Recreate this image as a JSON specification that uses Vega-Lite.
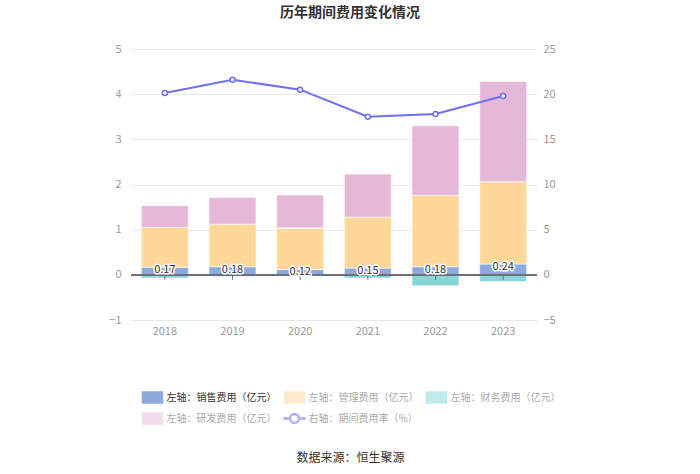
{
  "$schema": "https://vega.github.io/schema/vega-lite/v6.json",
  "width": 406,
  "height": 271,
  "autosize": {"type": "none"},
  "padding": {"left": 131, "top": 49, "right": 163, "bottom": 154},
  "config": {
    "font": "Noto Sans CJK SC",
    "view": {"stroke": null},
    "axis": {"labelColor": "#999999", "labelFontSize": 11, "domain": false, "ticks": false}
  },
  "title": {
    "text": "历年期间费用变化情况",
    "anchor": "middle",
    "frame": "group",
    "dx": 16,
    "offset": 23,
    "fontSize": 14,
    "fontWeight": "bold",
    "color": "#333333"
  },
  "datasets": {
    "cost": [
      {"year": "2018", "type": "左轴：销售费用（亿元）", "value": 0.17},
      {"year": "2018", "type": "左轴：管理费用（亿元）", "value": 0.88},
      {"year": "2018", "type": "左轴：财务费用（亿元）", "value": -0.07},
      {"year": "2018", "type": "左轴：研发费用（亿元）", "value": 0.48},
      {"year": "2019", "type": "左轴：销售费用（亿元）", "value": 0.18},
      {"year": "2019", "type": "左轴：管理费用（亿元）", "value": 0.94},
      {"year": "2019", "type": "左轴：财务费用（亿元）", "value": -0.03},
      {"year": "2019", "type": "左轴：研发费用（亿元）", "value": 0.59},
      {"year": "2020", "type": "左轴：销售费用（亿元）", "value": 0.12},
      {"year": "2020", "type": "左轴：管理费用（亿元）", "value": 0.91},
      {"year": "2020", "type": "左轴：财务费用（亿元）", "value": 0.01},
      {"year": "2020", "type": "左轴：研发费用（亿元）", "value": 0.73},
      {"year": "2021", "type": "左轴：销售费用（亿元）", "value": 0.15},
      {"year": "2021", "type": "左轴：管理费用（亿元）", "value": 1.13},
      {"year": "2021", "type": "左轴：财务费用（亿元）", "value": -0.07},
      {"year": "2021", "type": "左轴：研发费用（亿元）", "value": 0.95},
      {"year": "2022", "type": "左轴：销售费用（亿元）", "value": 0.18},
      {"year": "2022", "type": "左轴：管理费用（亿元）", "value": 1.58},
      {"year": "2022", "type": "左轴：财务费用（亿元）", "value": -0.24},
      {"year": "2022", "type": "左轴：研发费用（亿元）", "value": 1.54},
      {"year": "2023", "type": "左轴：销售费用（亿元）", "value": 0.24},
      {"year": "2023", "type": "左轴：管理费用（亿元）", "value": 1.82},
      {"year": "2023", "type": "左轴：财务费用（亿元）", "value": -0.15},
      {"year": "2023", "type": "左轴：研发费用（亿元）", "value": 2.22}
    ],
    "rate": [
      {"year": "2018", "rate": 20.13},
      {"year": "2019", "rate": 21.6},
      {"year": "2020", "rate": 20.5},
      {"year": "2021", "rate": 17.5},
      {"year": "2022", "rate": 17.8},
      {"year": "2023", "rate": 19.8}
    ]
  },
  "layer": [
    {
      "data": {"name": "cost"},
      "layer": [
        {
          "transform": [
            {"calculate": "indexof(['左轴：销售费用（亿元）', '左轴：管理费用（亿元）', '左轴：财务费用（亿元）', '左轴：研发费用（亿元）'], datum.type)", "as": "seq"}
          ],
          "mark": {"type": "bar", "size": 47, "stroke": "#ffffff", "strokeWidth": 0.6},
          "encoding": {
            "x": {
              "field": "year",
              "type": "nominal",
              "scale": {"paddingInner": 0, "paddingOuter": 0},
              "axis": {
                "labelAngle": 0,
                "labelPadding": 5,
                "title": "数据来源：恒生聚源",
                "titleFontSize": 12,
                "titleFontWeight": "normal",
                "titleColor": "#333333",
                "titlePadding": 116,
                "titleX": 219
              }
            },
            "y": {
              "field": "value",
              "type": "quantitative",
              "stack": "zero",
              "scale": {"domain": [-1, 5], "nice": false},
              "axis": {
                "values": [-1, 0, 1, 2, 3, 4, 5],
                "grid": true,
                "gridColor": "#e6e9f0",
                "labelPadding": 10,
                "title": null
              }
            },
            "color": {
              "field": "type",
              "type": "nominal",
              "scale": {
                "domain": ["左轴：销售费用（亿元）", "左轴：管理费用（亿元）", "左轴：财务费用（亿元）", "左轴：研发费用（亿元）", "右轴：期间费用率（%）"],
                "range": ["#8eaadc", "#ffd899", "#85d6d6", "#e6b8d8", "#6e6ef6"]
              },
              "legend": {
                "orient": "none",
                "legendX": 15,
                "legendY": 342,
                "direction": "horizontal",
                "columns": 3,
                "title": null,
                "symbolType": {"expr": "datum.value === '右轴：期间费用率（%）' ? 'M-1.9,-0.12H-0.91V0.12H-1.9Z M0.91,-0.12H1.9V0.12H0.91Z M0.91,0A0.91,0.91 0 1,0 -0.91,0A0.91,0.91 0 1,0 0.91,0Z M0.7,0A0.7,0.7 0 1,1 -0.7,0A0.7,0.7 0 1,1 0.7,0Z' : 'M-1.82,-1H1.82V1H-1.82Z'"},
                "symbolSize": 121,
                "symbolOffset": 0,
                "symbolOpacity": {"expr": "datum.value === '左轴：销售费用（亿元）' ? 1 : 0.5"},
                "labelColor": {"expr": "datum.value === '左轴：销售费用（亿元）' ? '#333333' : '#aaaaaa'"},
                "labelFontSize": 10,
                "labelOffset": 7.5,
                "columnPadding": 4,
                "rowPadding": 4
              }
            },
            "order": {"field": "seq", "type": "quantitative"}
          }
        },
        {
          "mark": {"type": "rule", "color": "#6e7079", "strokeWidth": 1},
          "encoding": {"y": {"datum": 0, "type": "quantitative"}}
        },
        {
          "transform": [{"filter": "datum.type === '左轴：销售费用（亿元）'"}],
          "mark": {"type": "rule", "color": "#6e7079", "strokeWidth": 1},
          "encoding": {
            "x": {"field": "year", "type": "nominal"},
            "y": {"datum": 0, "type": "quantitative"},
            "y2": {"datum": -0.11}
          }
        },
        {
          "transform": [{"filter": "datum.type === '左轴：销售费用（亿元）'"}],
          "mark": {"type": "text", "fontSize": 11, "baseline": "middle", "dy": 3, "stroke": "#ffffff", "strokeWidth": 3, "strokeJoin": "round", "fill": "#ffffff"},
          "encoding": {
            "x": {"field": "year", "type": "nominal"},
            "y": {"field": "value", "type": "quantitative"},
            "text": {"field": "value", "type": "quantitative", "format": ".2f"}
          }
        },
        {
          "transform": [{"filter": "datum.type === '左轴：销售费用（亿元）'"}],
          "mark": {"type": "text", "fontSize": 11, "baseline": "middle", "dy": 3, "fill": "#333333"},
          "encoding": {
            "x": {"field": "year", "type": "nominal"},
            "y": {"field": "value", "type": "quantitative"},
            "text": {"field": "value", "type": "quantitative", "format": ".2f"}
          }
        }
      ]
    },
    {
      "data": {"name": "rate"},
      "mark": {"type": "line", "color": "#6e6ef6", "strokeWidth": 2, "point": {"filled": false, "fill": "#ffffff", "size": 25, "strokeWidth": 1.5, "color": "#6e6ef6"}},
      "encoding": {
        "x": {"field": "year", "type": "nominal"},
        "y": {
          "field": "rate",
          "type": "quantitative",
          "scale": {"domain": [-5, 25], "nice": false},
          "axis": {"orient": "right", "values": [-5, 0, 5, 10, 15, 20, 25], "labelPadding": 6, "title": null, "grid": false}
        },
        "color": {"datum": "右轴：期间费用率（%）", "legend": null}
      }
    }
  ],
  "resolve": {"scale": {"y": "independent"}}
}
